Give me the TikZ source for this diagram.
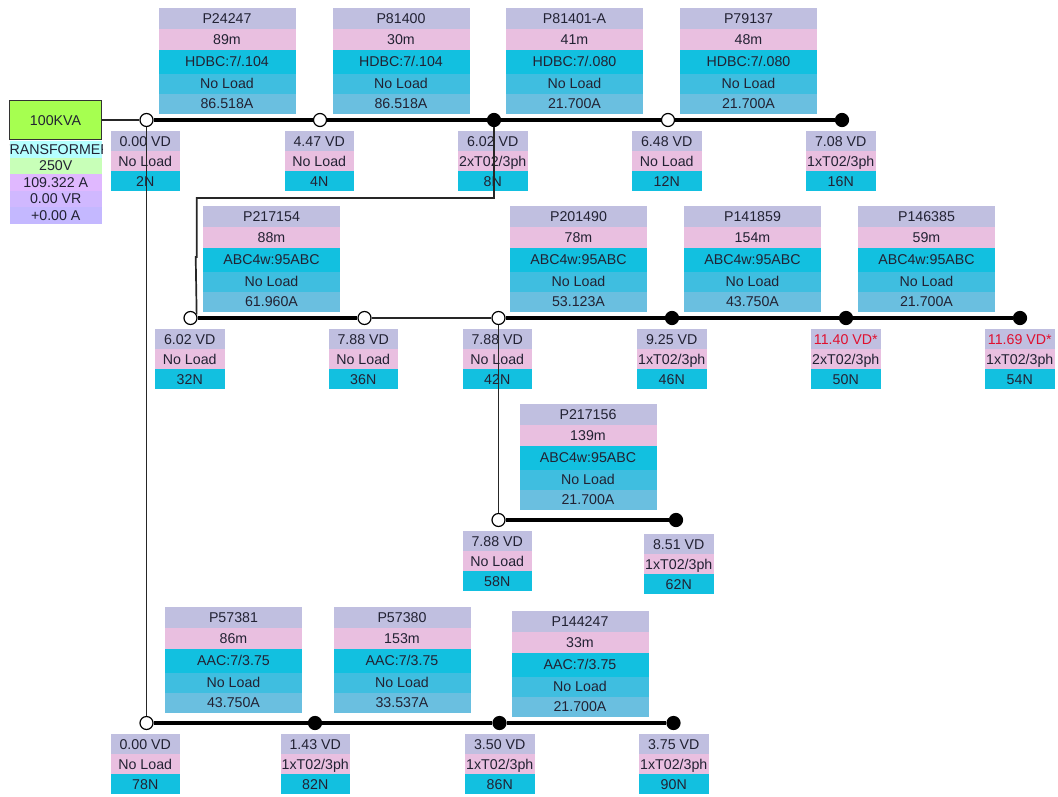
\documentclass[tikz,border=0pt]{standalone}
\usepackage{fontspec}
\setmainfont{Liberation Sans}
\definecolor{cA}{HTML}{C0BFE0}
\definecolor{cB}{HTML}{E9BFE0}
\definecolor{cC}{HTML}{12C0E0}
\definecolor{cD}{HTML}{3FBEE0}
\definecolor{cE}{HTML}{6ABFE0}
\definecolor{tA}{HTML}{B5FFFF}
\definecolor{tB}{HTML}{C8FFB8}
\definecolor{tC}{HTML}{E0B8FF}
\definecolor{tD}{HTML}{D0B8FF}
\definecolor{tE}{HTML}{C4B8FF}
\definecolor{xfgreen}{HTML}{A6FF50}
\definecolor{hot}{HTML}{E0102F}
\definecolor{ink}{HTML}{222233}
\tikzset{
  cell/.style={rectangle,inner sep=0pt,outer sep=0pt,anchor=north west,align=center,text=ink,
     font=\fontsize{14.2}{15}\selectfont,text height=10.2pt,text depth=0pt},
  cardcell/.style={cell,minimum width=137pt},
  vdcell/.style={cell,minimum width=69.5pt,minimum height=20pt},
  xfcell/.style={cell,minimum width=92.5pt,minimum height=16.5pt},
  openbus/.style={circle,draw=black,line width=1.2pt,fill=white,minimum size=13pt,inner sep=0pt},
  shutbus/.style={circle,draw=black,line width=1.2pt,fill=black,minimum size=13pt,inner sep=0pt},
  thick wire/.style={draw=black,line width=4.5pt},
  thin wire/.style={draw=black!85,line width=1.7pt},
}
\newcommand{\card}[8]{%
  \node[cardcell,fill=cA,minimum height=21pt] (#1a) at (#2,#3) {#4};
  \node[cardcell,fill=cB,minimum height=20.5pt] (#1b) at (#2,#3+21) {#5};
  \node[cardcell,fill=cC,minimum height=24pt] (#1c) at (#2,#3+41.5) {#6};
  \node[cardcell,fill=cD,minimum height=20pt] (#1d) at (#2,#3+65.5) {#7};
  \node[cardcell,fill=cE,minimum height=20pt] (#1e) at (#2,#3+85.5) {#8};
}
\newcommand{\vd}[7]{%
  \node[vdcell,fill=cA,text=#7] (#1a) at (#2,#3) {#4};
  \node[vdcell,fill=cB] (#1b) at (#2,#3+20) {#5};
  \node[vdcell,fill=cC] (#1c) at (#2,#3+40) {#6};
}
\begin{document}
\begin{tikzpicture}[x=1pt,y=-1pt]
\useasboundingbox (0,0) rectangle (1058,796);
% line cards
\card{p1}{158.5}{8}{P24247}{89m}{HDBC:7/.104}{No Load}{86.518A}
\card{p2}{332.5}{8}{P81400}{30m}{HDBC:7/.104}{No Load}{86.518A}
\card{p3}{506}{8}{P81401-A}{41m}{HDBC:7/.080}{No Load}{21.700A}
\card{p4}{680}{8}{P79137}{48m}{HDBC:7/.080}{No Load}{21.700A}
\card{p5}{203}{206}{P217154}{88m}{ABC4w:95ABC}{No Load}{61.960A}
\card{p6}{510}{206}{P201490}{78m}{ABC4w:95ABC}{No Load}{53.123A}
\card{p7}{684}{206}{P141859}{154m}{ABC4w:95ABC}{No Load}{43.750A}
\card{p8}{858}{206}{P146385}{59m}{ABC4w:95ABC}{No Load}{21.700A}
\card{p9}{519.5}{404}{P217156}{139m}{ABC4w:95ABC}{No Load}{21.700A}
\card{p10}{165}{607}{P57381}{86m}{AAC:7/3.75}{No Load}{43.750A}
\card{p11}{333.5}{607}{P57380}{153m}{AAC:7/3.75}{No Load}{33.537A}
\card{p12}{511.5}{611}{P144247}{33m}{AAC:7/3.75}{No Load}{21.700A}
% voltage-drop cards
\vd{v2}{110.5}{131}{0.00 VD}{No Load}{2N}{ink}
\vd{v4}{284.5}{131}{4.47 VD}{No Load}{4N}{ink}
\vd{v8}{458}{131}{6.02 VD}{2xT02/3ph}{8N}{ink}
\vd{v12}{632}{131}{6.48 VD}{No Load}{12N}{ink}
\vd{v16}{806}{131}{7.08 VD}{1xT02/3ph}{16N}{ink}
\vd{v32}{155}{329}{6.02 VD}{No Load}{32N}{ink}
\vd{v36}{328.5}{329}{7.88 VD}{No Load}{36N}{ink}
\vd{v42}{462.5}{329}{7.88 VD}{No Load}{42N}{ink}
\vd{v46}{637}{329}{9.25 VD}{1xT02/3ph}{46N}{ink}
\vd{v50}{811}{329}{11.40 VD*}{2xT02/3ph}{50N}{hot}
\vd{v54}{985}{329}{11.69 VD*}{1xT02/3ph}{54N}{hot}
\vd{v58}{462.5}{531}{7.88 VD}{No Load}{58N}{ink}
\vd{v62}{644}{534}{8.51 VD}{1xT02/3ph}{62N}{ink}
\vd{v78}{110.5}{734}{0.00 VD}{No Load}{78N}{ink}
\vd{v82}{280.5}{734}{1.43 VD}{1xT02/3ph}{82N}{ink}
\vd{v86}{465}{734}{3.50 VD}{1xT02/3ph}{86N}{ink}
\vd{v90}{639}{734}{3.75 VD}{1xT02/3ph}{90N}{ink}
% transformer
\node[cell,draw=black!80,line width=1.3pt,fill=xfgreen,minimum width=92pt,minimum height=39pt] (xf) at (9.5,100.5) {100KVA};
\begin{scope}
\clip (9.5,141) rectangle (102,224);
\fill[tA] (9.5,141) rectangle (102,157.5);
\node[xfcell,anchor=north,minimum width=0pt] (xa) at (55.75,141) {TRANSFORMER};
\end{scope}
\node[xfcell,fill=tB] (xb) at (9.5,157.5) {250V};
\node[xfcell,fill=tC] (xc) at (9.5,174) {109.322 A};
\node[xfcell,fill=tD] (xd) at (9.5,190.5) {0.00 VR};
\node[xfcell,fill=tE] (xe) at (9.5,207) {+0.00 A};
% buses
\node[openbus] (n2) at (146.5,120) {};
\node[openbus] (n4) at (320,120) {};
\node[shutbus] (n8) at (494,120) {};
\node[openbus] (n12) at (668,120) {};
\node[shutbus] (n16) at (842,120) {};
\node[openbus] (n32) at (190.5,318) {};
\node[openbus] (n36) at (364.5,318) {};
\node[openbus] (n42) at (498.5,318) {};
\node[shutbus] (n46) at (672,318) {};
\node[shutbus] (n50) at (846,318) {};
\node[shutbus] (n54) at (1020,318) {};
\node[openbus] (n58) at (498.5,520) {};
\node[shutbus] (n62) at (676,520) {};
\node[openbus] (n78) at (146.5,723) {};
\node[shutbus] (n82) at (315,723) {};
\node[shutbus] (n86) at (499.5,723) {};
\node[shutbus] (n90) at (673.5,723) {};
% wires
\coordinate (b1) at (494,198);
\coordinate (b2) at (196.7,198);
\coordinate (b3) at (196.7,257);
\coordinate (b4) at (195.7,257);
\draw[thin wire] (xf) -- (n2);
\draw[thin wire] (n2) -- (n78);
\draw[thin wire] (n8) -- (b1) -- (b2) -- (b3) -- (b4) -- (n32.30);
\draw[thin wire] (n36) -- (n42);
\draw[thin wire] (n42) -- (n58);
\draw[thick wire] (n2) -- (n4);
\draw[thick wire] (n4) -- (n8);
\draw[thick wire] (n8) -- (n12);
\draw[thick wire] (n12) -- (n16);
\draw[thick wire] (n32) -- (n36);
\draw[thick wire] (n42) -- (n46);
\draw[thick wire] (n46) -- (n50);
\draw[thick wire] (n50) -- (n54);
\draw[thick wire] (n58) -- (n62);
\draw[thick wire] (n78) -- (n82);
\draw[thick wire] (n82) -- (n86);
\draw[thick wire] (n86) -- (n90);
\end{tikzpicture}
\end{document}
